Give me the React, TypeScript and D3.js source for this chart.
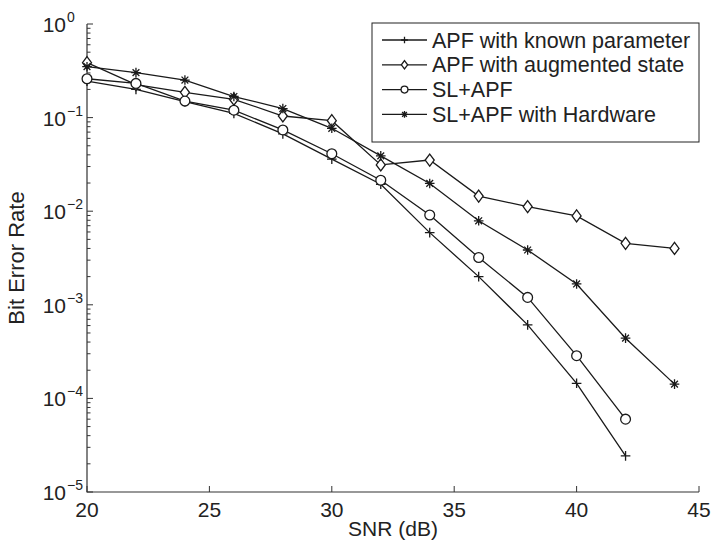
import React from "react";
import * as d3 from "d3";

// SNR (dB) and bit error rate per method
const snrShort = [20, 22, 24, 26, 28, 30, 32, 34, 36, 38, 40, 42];
const snrLong = [20, 22, 24, 26, 28, 30, 32, 34, 36, 38, 40, 42, 44];

const berKnown = [0.245, 0.2, 0.148, 0.111, 0.067, 0.036, 0.0194, 0.0059, 0.002, 0.00061, 0.000145, 0.0000243];
const berAugmented = [0.386, 0.225, 0.186, 0.157, 0.104, 0.0927, 0.0312, 0.0352, 0.0145, 0.0112, 0.0089, 0.00454, 0.004];
const berSL = [0.26, 0.232, 0.15, 0.12, 0.0738, 0.0411, 0.0214, 0.0091, 0.0032, 0.0012, 0.000286, 0.00006];
const berHardware = [0.35, 0.302, 0.252, 0.168, 0.125, 0.0769, 0.039, 0.0198, 0.0079, 0.00385, 0.00167, 0.00044, 0.000142];

const seriesNames = [
  "APF with known parameter",
  "APF with augmented state",
  "SL+APF",
  "SL+APF with Hardware",
];
const xTicks = [20, 25, 30, 35, 40, 45];
const yTicks = [1, 1e-1, 1e-2, 1e-3, 1e-4, 1e-5];

const series = [
  { name: seriesNames[0], x: snrShort, y: berKnown, marker: "plus" },
  { name: seriesNames[1], x: snrLong, y: berAugmented, marker: "diamond" },
  { name: seriesNames[2], x: snrShort, y: berSL, marker: "circle" },
  { name: seriesNames[3], x: snrLong, y: berHardware, marker: "star" },
];

const ink = "#1a1a1a";
const font = "'Liberation Sans', Arial, Helvetica, sans-serif";

const Marker = ({ type, cx, cy, s = 1 }) => {
  const common = { stroke: ink, strokeWidth: 1.3, fill: "none" };
  if (type === "plus") {
    const h = 4.8 * s;
    return (
      <path d={`M${cx - h},${cy}H${cx + h}M${cx},${cy - h}V${cy + h}`} {...common} />
    );
  }
  if (type === "diamond") {
    const w = 4.5 * s;
    const h = 6 * s;
    return (
      <path
        d={`M${cx},${cy - h}L${cx + w},${cy}L${cx},${cy + h}L${cx - w},${cy}Z`}
        {...common}
        fill="#fff"
      />
    );
  }
  if (type === "circle") {
    return <circle cx={cx} cy={cy} r={4.9 * s} {...common} fill="#fff" />;
  }
  const h = 4.8 * s;
  const d = 3.4 * s;
  return (
    <path
      d={`M${cx - h},${cy}H${cx + h}M${cx},${cy - h}V${cy + h}M${cx - d},${cy - d}L${cx + d},${cy + d}M${cx - d},${cy + d}L${cx + d},${cy - d}`}
      {...common}
    />
  );
};

export default function App() {
  const width = 713;
  const height = 544;
  const margin = { top: 24, right: 14, bottom: 52, left: 87 };
  const plotW = width - margin.left - margin.right;
  const plotH = height - margin.top - margin.bottom;

  const x = d3.scaleLinear().domain([20, 45]).range([0, plotW]);
  const y = d3.scaleLog().domain([1e-5, 1]).range([plotH, 0]);
  const minor = y.ticks().filter((t) => !yTicks.some((m) => Math.abs(m - t) / t < 1e-6));

  const line = d3
    .line<[number, number]>()
    .x((d) => x(d[0]))
    .y((d) => y(d[1]));

  const legend = { x: 285, y: -1, w: 327, h: 119, row: 24.8 };

  return (
    <svg width={width} height={height} style={{ position: "absolute", left: 0, top: 0 }}>
      <rect width={width} height={height} fill="#fff" />
      <g transform={`translate(${margin.left},${margin.top})`} fontFamily={font}>
        {/* axes */}
        <path d={`M0,0V${plotH}H${plotW}`} fill="none" stroke="#333" strokeWidth={1.2} />
        {xTicks.map((t) => (
          <g key={t} transform={`translate(${x(t)},${plotH})`}>
            <line y2={-6} stroke="#333" />
            <text y={25} textAnchor="middle" fontSize={21} fill="#222">
              {t}
            </text>
          </g>
        ))}
        {yTicks.map((t) => {
          const e = Math.round(Math.log10(t));
          return (
            <g key={t} transform={`translate(0,${y(t)})`}>
              <line x2={6} stroke="#333" />
              <text x={-21} y={8} textAnchor="end" fontSize={21} fill="#222">
                10
              </text>
              <text x={-20} y={-2} textAnchor="start" fontSize={14} fill="#222">
                {e === 0 ? "0" : `\u2212${-e}`}
              </text>
            </g>
          );
        })}
        {minor.map((t) => (
          <line key={t} x2={3.5} y1={y(t)} y2={y(t)} stroke="#333" />
        ))}
        <text
          transform={`translate(${-63},${plotH / 2}) rotate(-90)`}
          textAnchor="middle"
          fontSize={22}
          fill="#222"
        >
          Bit Error Rate
        </text>
        <text x={plotW / 2} y={plotH + 44} textAnchor="middle" fontSize={21} fill="#222">
          SNR (dB)
        </text>

        {/* series */}
        {series.map((s) => {
          const pts = s.x.map((v, i) => [v, s.y[i]] as [number, number]);
          return (
            <g key={s.name}>
              <path d={line(pts) || ""} fill="none" stroke={ink} strokeWidth={1.3} />
              {pts.map((p, i) => (
                <Marker key={i} type={s.marker} cx={x(p[0])} cy={y(p[1])} />
              ))}
            </g>
          );
        })}

        {/* legend */}
        <g transform={`translate(${legend.x},${legend.y})`}>
          <rect width={legend.w} height={legend.h} fill="#fff" stroke="#222" strokeWidth={1} />
          {series.map((s, i) => {
            const cy = 17 + i * legend.row;
            return (
              <g key={s.name}>
                <line x1={10} x2={55} y1={cy} y2={cy} stroke={ink} strokeWidth={1.3} />
                <Marker type={s.marker} cx={32.5} cy={cy} s={0.7} />
                <text x={60} y={cy + 7.5} fontSize={21.5} fill="#222">
                  {s.name}
                </text>
              </g>
            );
          })}
        </g>
      </g>
    </svg>
  );
}
